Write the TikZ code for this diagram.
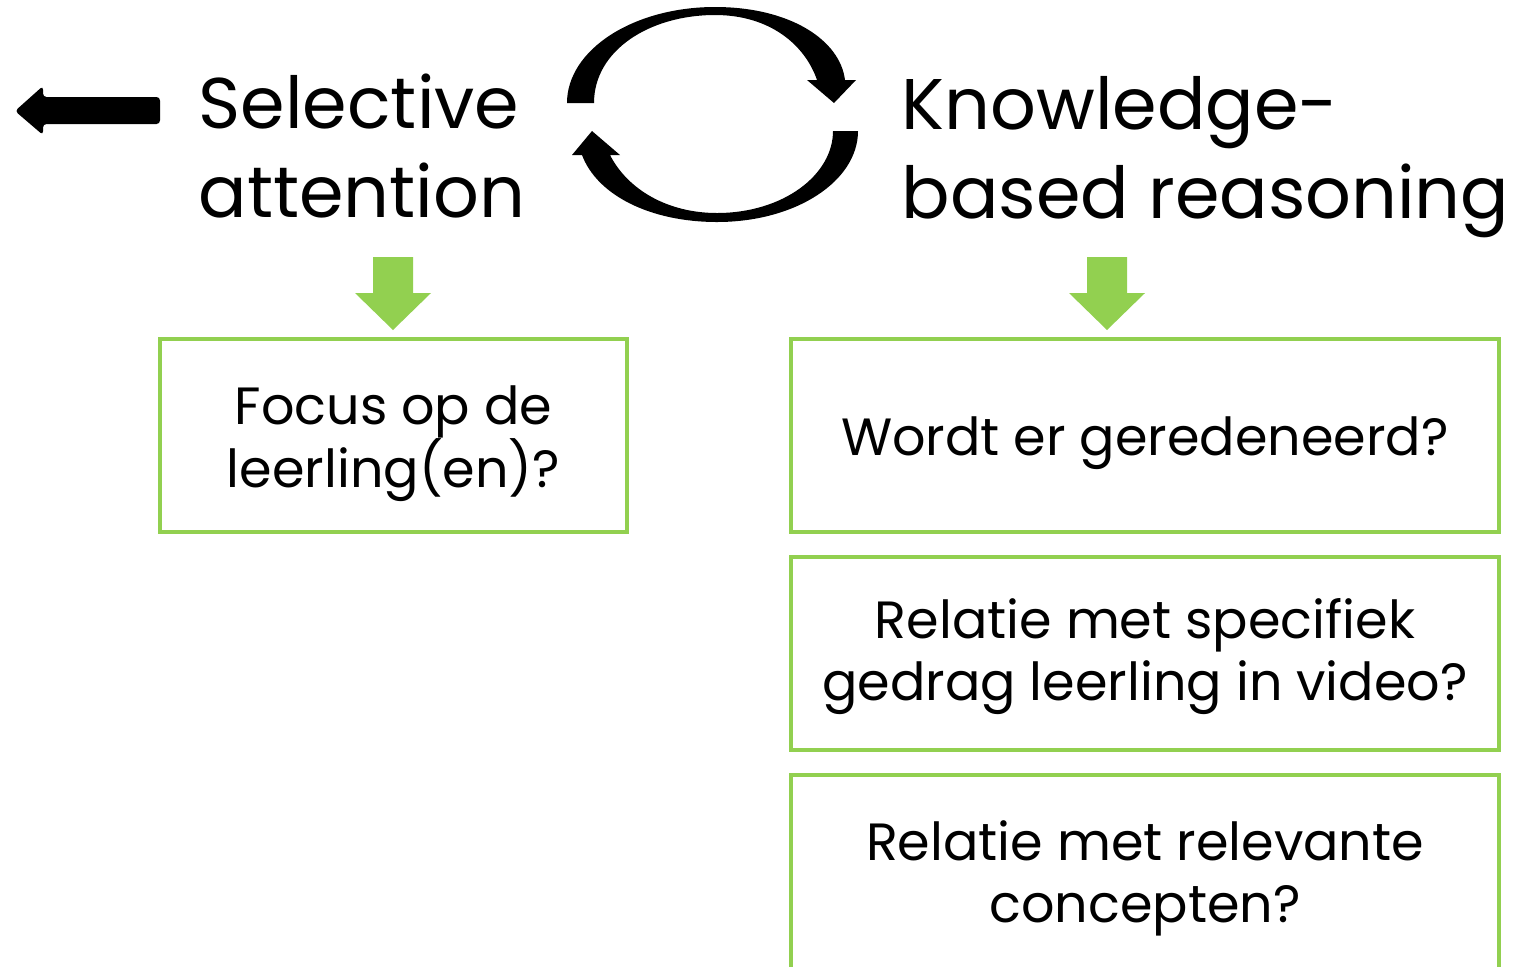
\documentclass[tikz,border=0pt]{standalone}
\usepackage{fontspec}
\setmainfont{Poppins}
\usepackage{tikz}
\usetikzlibrary{positioning}
\definecolor{boxgreen}{RGB}{146,208,80}

\tikzset{
  heading/.style={anchor=base west, align=left, inner sep=0pt,
    font=\fontsize{20.4}{25.2}\selectfont},
  question/.style={draw=boxgreen, line width=0.04cm, align=center, inner sep=0pt,
    minimum height=1.93cm, text depth=0pt, font=\fontsize{14.9}{17.8}\selectfont},
}

\begin{document}
\begin{tikzpicture}[x=0.01cm, y=-0.01cm]
  \useasboundingbox (0,0) rectangle (1518,966);
  % Headings
  \node[heading] (selective) at (198,217) {Selective\\attention};
  \node[heading] (knowledge) at (901,218) {Knowledge-\\based reasoning};
  % Back arrow
  \fill[rounded corners=1pt] (160,97) -- (160,124) -- (43,124) -- (43,135)
    -- (15,111) -- (43,86) -- (43,97) -- cycle;
  % Cycle arrows
  \fill (567,103) .. controls (567,50) and (633,7) .. (715,7)
    .. controls (790,7) and (840,40) .. (845,80) -- (856,80) -- (834,103)
    -- (807,80) -- (817,80) .. controls (805,45) and (770,15) .. (715,15)
    .. controls (650,15) and (594,50) .. (594,103) -- cycle;
  \fill (858,131) .. controls (858,181) and (796,222) .. (717,222)
    .. controls (650,222) and (597,195) .. (582,155) -- (572,155) -- (592,131)
    -- (620,155) -- (610,155) .. controls (628,190) and (668,213) .. (717,213)
    .. controls (783,213) and (833,175) .. (833,131) -- cycle;
  % Green arrows
  \fill[boxgreen] (373,257) -- (413,257) -- (413,293) -- (431,293) -- (393,330)
    -- (355,293) -- (373,293) -- cycle;
  \fill[boxgreen] (1087,257) -- (1127,257) -- (1127,293) -- (1145,293) -- (1107,330)
    -- (1069,293) -- (1087,293) -- cycle;
  % Questions
  \node[question, minimum width=4.67cm, text height=1.03cm] (focus) at (393.5,435.5)
    {Focus op de\\leerling(en)?};
  \node[question, minimum width=7.08cm, text height=0.39cm] (wordt) at (1145,435.5)
    {Wordt er geredeneerd?};
  \node[question, minimum width=7.08cm, text height=0.94cm, below=0.21cm of wordt] (gedrag)
    {Relatie met specifiek\\gedrag leerling in video?};
  \node[question, minimum width=7.08cm, minimum height=2.0cm, text height=0.95cm,
    below=0.21cm of gedrag] (concepten)
    {Relatie met relevante\\concepten?};
\end{tikzpicture}
\end{document}
